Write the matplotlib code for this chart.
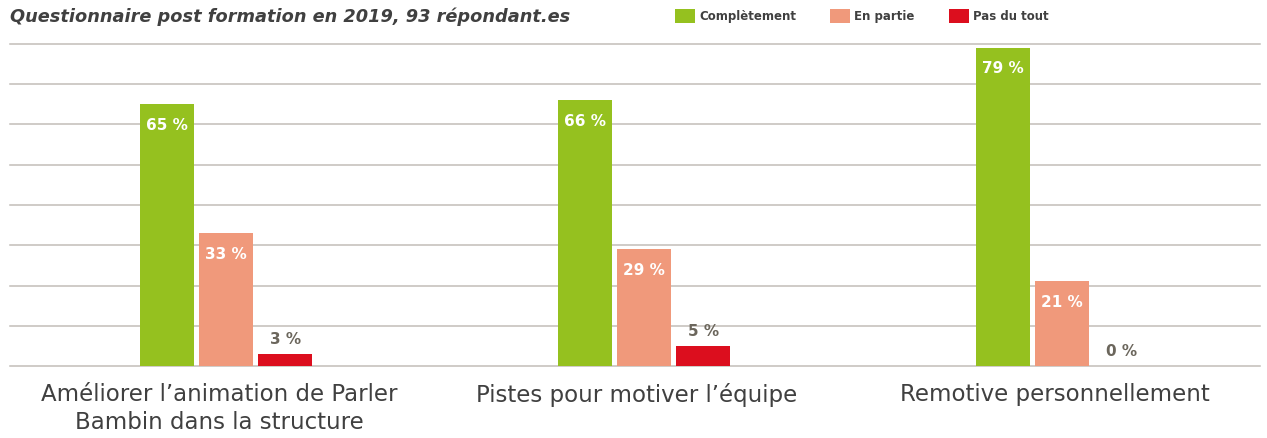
import numpy as np
import matplotlib.pyplot as plt
import matplotlib.transforms as mtransforms

# DATA

categories = [
    "Améliorer l’animation de Parler\nBambin dans la structure",
    "Pistes pour motiver l’équipe",
    "Remotive personnellement",
]

series_names = ["Complètement", "En partie", "Pas du tout"]

completement = [65, 66, 79]
en_partie = [33, 29, 21]
pas_du_tout = [3, 5, 0]

colors = ["#95C11F", "#F0997B", "#DC0E1E"]

title = "Questionnaire post formation en 2019, 93 répondant.es"


def main():

    plt.rcParams["font.family"] = ["DejaVu Sans"]

    fig = plt.figure(figsize=(12.67, 4.38), dpi=100)

    # AXES POSITION (pixel based)

    W, H = 1267, 438
    left, right = 10 / W, 1260 / W
    bottom, top = (H - 366) / H, (H - 44) / H

    ax = fig.add_axes([left, bottom, right - left, top - bottom])

    x = np.arange(len(categories))
    width = 0.129
    offset = 0.142

    values = [completement, en_partie, pas_du_tout]

    # GRID

    for g in range(0, 90, 10):

        ax.axhline(g, color="#C2BDB8", linewidth=1.1, zorder=0,
                   clip_on=False)

    # BARS

    for k, (vals, col) in enumerate(zip(values, colors)):

        pos = x + (k - 1) * offset

        ax.bar(pos, vals, width=width, color=col, zorder=2,
               label=series_names[k])

        for p, v in zip(pos, vals):

            if k < 2:

                ax.text(p, v - 5.2, f"{v} %", ha="center", va="center",
                        color="white", fontsize=11, fontweight="bold",
                        zorder=3)

            else:

                ax.text(p, v + 3.5, f"{v} %", ha="center", va="center",
                        color="#6B665C", fontsize=11, fontweight="bold",
                        zorder=3)

    ax.set_xlim(-0.517, 2.474)
    ax.set_ylim(0, 80)

    for s in ax.spines.values():

        s.set_visible(False)

    ax.set_yticks([])
    ax.set_xticks(x)
    ax.set_xticklabels(categories, fontsize=16.5, color="#404040",
                       linespacing=1.3)
    ax.tick_params(axis="x", length=0, pad=12)

    # SHIFT CATEGORY LABELS SLIGHTLY LEFT

    shift = mtransforms.ScaledTranslation(-7 / 100, 0, fig.dpi_scale_trans)

    for lab in ax.get_xticklabels():

        lab.set_transform(lab.get_transform() + shift)

    # TITLE

    fig.text(10 / W, 1 - 17 / H, title, ha="left", va="center",
             fontsize=12.8, fontweight="bold", fontstyle="italic",
             color="#404040")

    # LEGEND

    leg = fig.legend(loc="center left", bbox_to_anchor=(675 / W, 1 - 16 / H),
                     ncol=3, frameon=False, fontsize=8.5,
                     handlelength=1.7, handleheight=1.45,
                     handletextpad=0.33, columnspacing=2.9,
                     borderaxespad=0, borderpad=0)

    for t in leg.get_texts():

        t.set_fontweight("bold")
        t.set_color("#404040")

    # SAVE IMAGE

    fig.savefig("out.png", dpi=100)


if __name__ == "__main__":

    main()
